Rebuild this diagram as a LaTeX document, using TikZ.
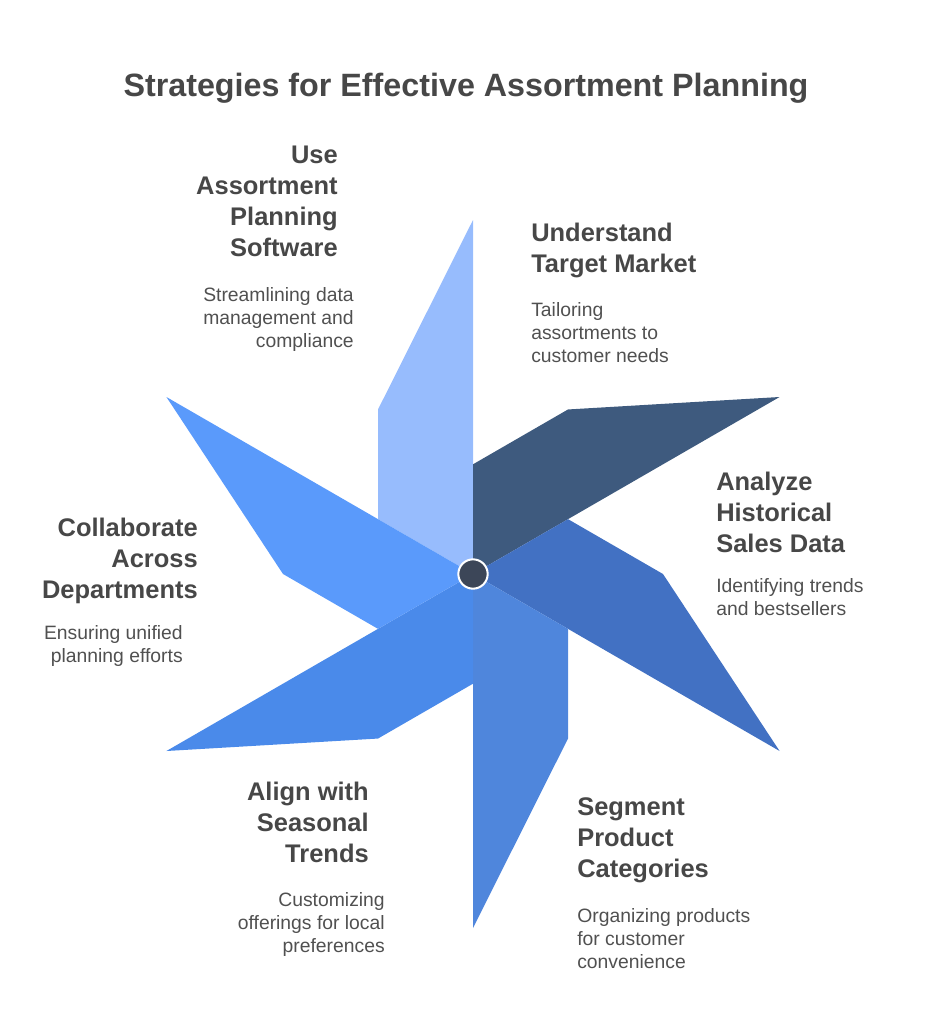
\documentclass[tikz,border=0pt]{standalone}
\usepackage{fontspec}
\setmainfont{Liberation Sans}
\usepackage{tikz}
\definecolor{bladeA}{HTML}{97BCFD}
\definecolor{bladeB}{HTML}{3E5A7E}
\definecolor{bladeC}{HTML}{4271C3}
\definecolor{bladeD}{HTML}{4F86DC}
\definecolor{bladeE}{HTML}{4A8AEA}
\definecolor{bladeF}{HTML}{5A9AFB}
\definecolor{hubfill}{HTML}{3C4658}
\definecolor{textgray}{HTML}{474747}

\begin{document}
\begin{tikzpicture}[
        x=0.75pt, y=-0.75pt,
        title/.style={font=\bfseries\fontsize{24.2}{29}\selectfont, text=textgray, inner sep=0pt},
        heading/.style={font=\bfseries\fontsize{19.1}{23.25}\selectfont, text=textgray, inner sep=0pt},
        caption/.style={font=\fontsize{14.5}{17.25}\selectfont, text=textgray!95, inner sep=0pt},
        hub/.style={circle, fill=hubfill, draw=white, line width=1.5pt, minimum size=22pt, inner sep=0pt},
    ]
    \useasboundingbox (0,0) rectangle (931,1024);

    %Title
    \node [title, anchor=base] (title) at (466,96) {Strategies for Effective Assortment Planning};

    %Draw the six blades of the pinwheel
    \begin{scope}[shift={(473,574)}, yscale=-1]
        \foreach \ang/\col in {90/bladeA,30/bladeB,-30/bladeC,-90/bladeD,-150/bladeE,150/bladeF}
            \fill [\col] (0,0) -- (\ang:354) -- (\ang+30:190) -- (\ang+60:109.7) -- cycle;
    \end{scope}

    %Draw the hub
    \node [hub] (center) at (473,574) {};

    %Labels on the left side (anchored at the last line)
    \node [heading, anchor=base east, align=right] (software) at (338,256) {Use\\Assortment\\Planning\\Software};
    \node [caption, anchor=base east, align=right] (softwaretxt) at (354,347) {Streamlining data\\management and\\compliance};

    \node [heading, anchor=base east, align=right] (collab) at (198,598) {Collaborate\\Across\\Departments};
    \node [caption, anchor=base east, align=right] (collabtxt) at (183,662) {Ensuring unified\\planning efforts};

    \node [heading, anchor=base east, align=right] (seasonal) at (369,862) {Align with\\Seasonal\\Trends};
    \node [caption, anchor=base east, align=right] (seasonaltxt) at (385,952) {Customizing\\offerings for local\\preferences};

    %Labels on the right side
    \node [heading, anchor=base west, align=left] (market) at (531,272) {Understand\\Target Market};
    \node [caption, anchor=base west, align=left] (markettxt) at (531,362) {Tailoring\\assortments to\\customer needs};

    \node [heading, anchor=base west, align=left] (sales) at (716,552) {Analyze\\Historical\\Sales Data};
    \node [caption, anchor=base west, align=left] (salestxt) at (716,615) {Identifying trends\\and bestsellers};

    \node [heading, anchor=base west, align=left] (segment) at (577,877) {Segment\\Product\\Categories};
    \node [caption, anchor=base west, align=left] (segmenttxt) at (577,968) {Organizing products\\for customer\\convenience};
\end{tikzpicture}
\end{document}
